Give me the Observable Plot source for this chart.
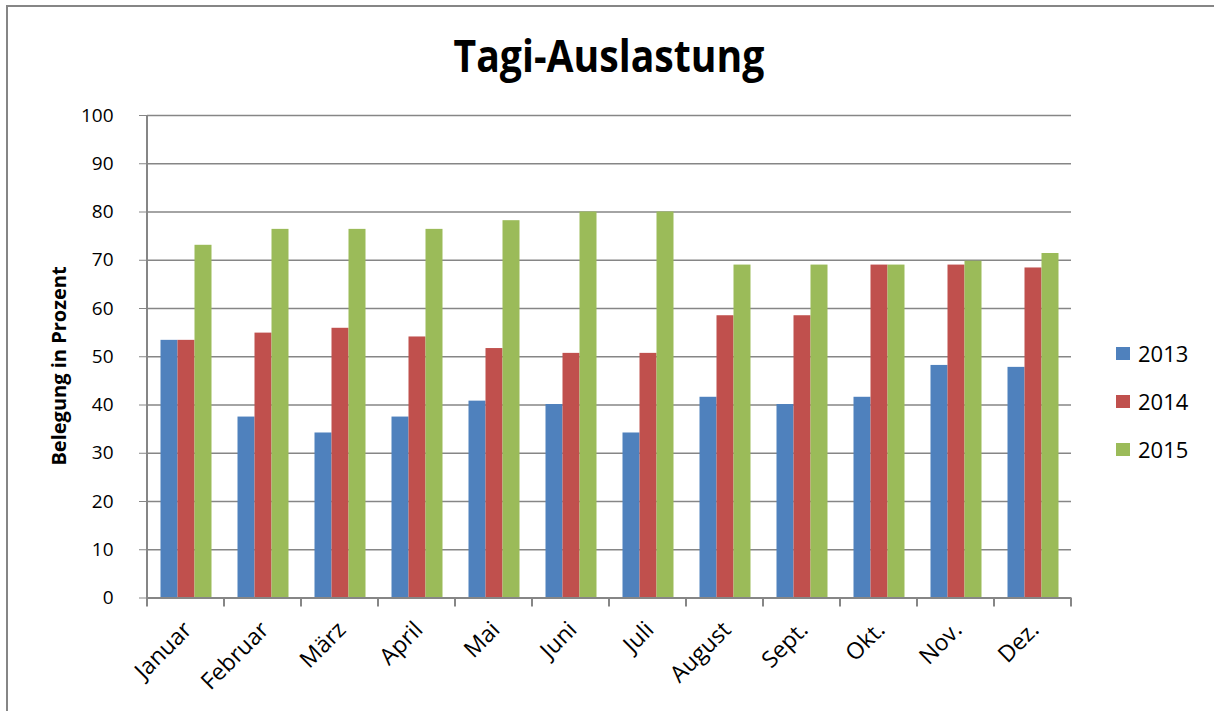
<!DOCTYPE html>
<html><head><meta charset="utf-8">
<script src="https://cdn.jsdelivr.net/npm/d3@7"></script>
<script src="https://cdn.jsdelivr.net/npm/@observablehq/plot@0.6"></script>
<style>
html,body{margin:0;padding:0;background:#fff;overflow:hidden;}
#wrap{position:relative;width:1214px;height:711px;overflow:hidden;font-family:"Open Sans",sans-serif;color:#000;}
#bt{position:absolute;left:6px;top:5px;width:1220px;height:2px;background:#868686;}
#bl{position:absolute;left:6px;top:5px;width:2px;height:720px;background:#868686;}
#title{position:absolute;left:0;width:1218px;top:31px;text-align:center;font-family:"Open Sans",sans-serif;font-weight:bold;font-size:44px;line-height:1.1;transform:scaleX(0.89);transform-origin:609px 0;}
#ylabel{position:absolute;left:58px;top:366px;transform:translate(-50%,-50%) rotate(-90deg);font-weight:bold;font-size:20px;white-space:nowrap;}
#chart{position:absolute;left:0;top:0;}
#legend{position:absolute;left:1116px;top:329px;}
.li{display:flex;align-items:center;height:48px;font-size:22px;}
.sw{width:14px;height:13px;margin-right:8px;}
</style>
</head><body>
<div id="wrap">
  <div id="bt"></div><div id="bl"></div>
  <div id="chart"></div>
  <div id="title">Tagi-Auslastung</div>
  <div id="ylabel">Belegung in Prozent</div>
  <div id="legend"></div>
</div>
<script>
const months = ["Januar","Februar","März","April","Mai","Juni","Juli","August","Sept.","Okt.","Nov.","Dez."];
const years = ["2013","2014","2015"];
const v2013 = [53.4,37.5,34.2,37.5,40.8,40.1,34.2,41.6,40.1,41.6,48.2,47.8];
const v2014 = [53.4,54.9,55.9,54.1,51.7,50.7,50.7,58.5,58.5,69.0,69.0,68.4];
const v2015 = [73.1,76.4,76.4,76.4,78.2,80.0,80.0,69.0,69.0,69.0,69.8,71.4];
const yTicks = [0,10,20,30,40,50,60,70,80,90,100];
const colors = ["#4F81BD","#C0504D","#9BBB59"];

const series = [v2013, v2014, v2015];
const rows = [];
months.forEach((m, i) => years.forEach((yr, j) => rows.push({month: m, year: yr, value: series[j][i]})));

const chart = Plot.plot({
  width: 1214, height: 711,
  marginLeft: 143.5, marginRight: 140, marginTop: 115, marginBottom: 113.5,
  style: {fontFamily: "'Open Sans', sans-serif", fontSize: "19px", color: "#000", background: "transparent", overflow: "visible"},
  fx: {domain: months, paddingInner: 0, paddingOuter: 0, label: null},
  x: {domain: years, paddingInner: 0, paddingOuter: 0.71, axis: null},
  y: {domain: [0, 100], label: null},
  color: {domain: years, range: colors},
  marks: [
    Plot.ruleY(yTicks.filter(d => d > 0), {stroke: "#868686", strokeWidth: 1.5}),
    Plot.barY(rows, {fx: "month", x: "year", y: "value", fill: "year"}),
    Plot.ruleY([0], {stroke: "#868686", strokeWidth: 2}),
    Plot.axisY({ticks: yTicks, tickSize: 8, tickPadding: 26, stroke: "#868686", fill: "#000", label: null}),
    Plot.axisFx({anchor: "bottom", tickSize: 0, tickPadding: 28, tickRotate: -45, label: null, fill: "#000", fontSize: 23, dx: 2})
  ]
});
document.getElementById("chart").appendChild(chart);

// category boundary ticks and y-axis line, from the library's scales
const svgNode = chart.tagName.toLowerCase() === "svg" ? chart : chart.querySelector("svg");
const svg = d3.select(svgNode);
const fx = chart.scale("fx"), ys = chart.scale("y");
const bw = fx.bandwidth;
const bounds = months.map(m => fx.apply(m)).concat([fx.apply(months[months.length - 1]) + bw]);
const y0 = ys.apply(0), y100 = ys.apply(100);
const g = svg.append("g").attr("stroke", "#868686").attr("stroke-width", 2);
g.selectAll("line.b").data(bounds).join("line")
  .attr("x1", d => d).attr("x2", d => d).attr("y1", y0).attr("y2", y0 + 9);
g.append("line").attr("x1", bounds[0]).attr("x2", bounds[0]).attr("y1", y0 + 1).attr("y2", y100);

// legend
const lg = d3.select("#legend");
years.forEach((yr, j) => {
  const it = lg.append("div").attr("class", "li");
  it.append("div").attr("class", "sw").style("background", colors[j]);
  it.append("span").text(yr);
});
</script>
</body></html>
